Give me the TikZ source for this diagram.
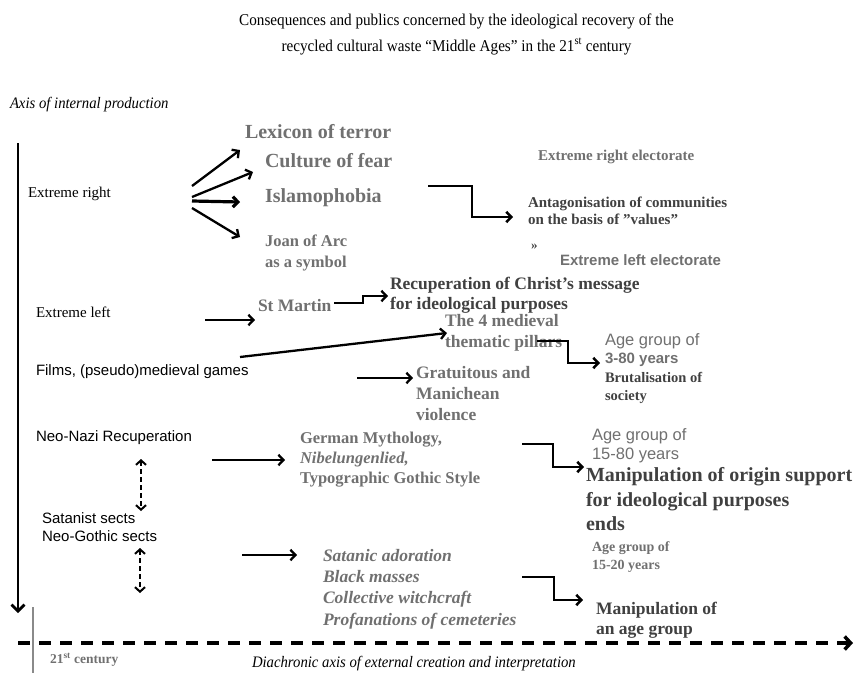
\documentclass[tikz,border=0pt]{standalone}
\usepackage{fontspec}
\setmainfont{Liberation Serif}
\newfontfamily\arial{Liberation Sans}
\newfontfamily\titlefont[FakeStretch=0.92]{Liberation Serif}
\usetikzlibrary{arrows.meta}
\definecolor{txtgrey}{HTML}{707070}
\definecolor{txtdark}{HTML}{404040}
\definecolor{rulegrey}{HTML}{8A8A8A}
\newcommand\fs[2]{\fontsize{#1}{#2}\selectfont}
\newcommand\dq{\char34\relax}

\begin{document}
\begin{tikzpicture}[x=1pt,y=-1pt,
  every node/.style={inner sep=0pt, outer sep=0pt},
  lbl/.style={anchor=west, align=left},
  grey/.style={text=txtgrey},
  dark/.style={text=txtdark},
  arr/.style={line width=2.3pt, -{Straight Barb[length=5pt,width=10.5pt]}},
  elbow/.style={arr, line width=2.5pt},
  dbl/.style={line width=2pt, dash pattern=on 5pt off 3pt,
    {Straight Barb[length=4.5pt,width=10pt]}-{Straight Barb[length=4.5pt,width=10pt]}},
]
\useasboundingbox (0,0) rectangle (857,673);

% title
\node[font=\titlefont\fs{16.5}{26}, align=center] (title) at (456.5,34)
  {Consequences and publics concerned by the ideological recovery of the\\
   recycled cultural waste “Middle Ages” in the 21\textsuperscript{st} century};

\node[lbl, font=\titlefont\fs{16}{18}\itshape] (axisv) at (10,105) {Axis of internal production};

% producers
\node[lbl, font=\fs{15}{18}] (eright) at (28,194) {Extreme right};
\node[lbl, font=\fs{15}{18}] (eleft) at (36,312) {Extreme left};
\node[lbl, font=\arial\fs{15}{18}] (films) at (36,372) {Films, (pseudo)medieval games};
\node[lbl, font=\arial\fs{15}{18}] (neonazi) at (36,438) {Neo-Nazi Recuperation};
\node[lbl, font=\arial\fs{15}{18}] (sects) at (42,527) {Satanist sects\\Neo-Gothic sects};

% extreme right themes
\node[lbl, grey, font=\bfseries\fs{20}{22}] (lexicon) at (245,132) {Lexicon of terror};
\node[lbl, grey, font=\bfseries\fs{20}{22}] (fear) at (265,161) {Culture of fear};
\node[lbl, grey, font=\bfseries\fs{20}{22}] (islam) at (265,198) {Islamophobia};
\node[lbl, grey, font=\bfseries\fs{16.5}{21}] (joan) at (265,252.5) {Joan of Arc\\as a symbol};

\node[lbl, grey, font=\bfseries\fs{15}{18}] (erelect) at (538,157) {Extreme right electorate};
\node[lbl, dark, font=\bfseries\fs{15}{17}] (antag) at (528,210.5)
  {Antagonisation of communities\\on the basis of \dq values\dq};
\node[lbl, dark, font=\bfseries\fs{13}{15}] (guil) at (531,247) {»};
\node[lbl, grey, font=\arial\bfseries\fs{15}{18}] (elelect) at (560,260) {Extreme left electorate};

% extreme left / films
\node[lbl, grey, font=\bfseries\fs{17.5}{20}] (martin) at (258,306) {St Martin};
\node[lbl, dark, font=\bfseries\fs{17.5}{20}] (christ) at (390,295)
  {Recuperation of Christ’s message\\for ideological purposes};
\node[lbl, grey, font=\bfseries\fs{17.5}{21}] (pillars) at (445,332.5) {The 4 medieval\\thematic pillars};
\node[lbl, grey, font=\arial\fs{16.5}{18}] (age1) at (605,350) {Age group of\\{\fs{15}{18}\bfseries 3-80 years}};
\node[lbl, dark, font=\bfseries\fs{14.5}{18}] (brutal) at (605,388) {Brutalisation of\\society};
\node[lbl, grey, font=\bfseries\fs{17.5}{21}] (violence) at (416,394) {Gratuitous and\\Manichean\\violence};

% neo-nazi
\node[lbl, grey, font=\bfseries\fs{16.5}{20}] (german) at (300,460)
  {German Mythology,\\\textit{Nibelungenlied,}\\Typographic Gothic Style};
\node[lbl, grey, font=\arial\fs{16.5}{19}] (age2) at (592,445.5) {Age group of\\15-80 years};
\node[lbl, dark, font=\bfseries\fs{20}{24.5}] (origin) at (586,499.5)
  {Manipulation of origin support\\for ideological purposes\\ends};

% sects
\node[lbl, grey, font=\bfseries\fs{14}{18}] (age3) at (592,557) {Age group of\\15-20 years};
\node[lbl, grey, font=\bfseries\itshape\fs{17.5}{21.3}] (satanic) at (323,589)
  {Satanic adoration\\Black masses\\Collective witchcraft\\Profanations of cemeteries};
\node[lbl, dark, font=\bfseries\fs{17.5}{20}] (agegroup) at (596,620) {Manipulation of\\an age group};

% time axis labels
\node[lbl, grey, font=\bfseries\fs{13.5}{16}] (century) at (50,660) {21\textsuperscript{st} century};
\node[lbl, font=\titlefont\itshape\fs{16}{18}] (diachron) at (252,664)
  {Diachronic axis of external creation and interpretation};

% axes
\coordinate (vtop) at (18,143); \coordinate (vbot) at (18,613);
\draw[line width=2.8pt, -{Straight Barb[length=6.5pt,width=13pt]}] (vtop) -- (vbot);
\coordinate (gtop) at (33,607); \coordinate (gbot) at (33,673);
\draw[rulegrey, line width=1.6pt] (gtop) -- (gbot);
\coordinate (hstart) at (18,643); \coordinate (hend) at (853,643);
\draw[line width=3.5pt, dash pattern=on 12pt off 9pt,
  -{Straight Barb[length=6pt,width=13pt]}] (hstart) -- (hend);

% links between sects
\coordinate (d1a) at (141,459); \coordinate (d1b) at (141,511);
\coordinate (d2a) at (140,548); \coordinate (d2b) at (140,593);
\draw[dbl] (d1a) -- (d1b);
\draw[dbl] (d2a) -- (d2b);

% extreme right fan
\coordinate (er0a) at (192,186); \coordinate (er1) at (240,150);
\coordinate (er0b) at (192,197); \coordinate (er2) at (253,172);
\coordinate (er0c) at (192,201); \coordinate (er3) at (240,202);
\coordinate (er0d) at (192,208); \coordinate (er4) at (240,237);
\draw[arr] (er0a) -- (er1);
\draw[arr] (er0b) -- (er2);
\draw[arr, line width=3.2pt] (er0c) -- (er3);
\draw[arr] (er0d) -- (er4);

\coordinate (ant1) at (428,186); \coordinate (ant2) at (472,186); \coordinate (ant3) at (513,217);
\draw[elbow] (ant1) -- (ant2) |- (ant3);

% extreme left
\coordinate (el1) at (205,320); \coordinate (el2) at (255,320);
\draw[arr] (el1) -- (el2);
\coordinate (sm1) at (334,303); \coordinate (sm2) at (363,303); \coordinate (sm3) at (388,296);
\draw[arr] (sm1) -- (sm2) |- (sm3);

% films
\coordinate (fl1) at (240,357); \coordinate (fl2) at (447,333);
\draw[arr] (fl1) -- (fl2);
\coordinate (pl1) at (537,341); \coordinate (pl2) at (568,341); \coordinate (pl3) at (600,363);
\draw[elbow] (pl1) -- (pl2) |- (pl3);
\coordinate (vl1) at (357,378); \coordinate (vl2) at (413,378);
\draw[arr] (vl1) -- (vl2);

% neo-nazi
\coordinate (nn1) at (212,460); \coordinate (nn2) at (285,460);
\draw[arr] (nn1) -- (nn2);
\coordinate (ge1) at (522,444); \coordinate (ge2) at (553,444); \coordinate (ge3) at (584,467);
\draw[elbow] (ge1) -- (ge2) |- (ge3);

% sects
\coordinate (sa1) at (242,555); \coordinate (sa2) at (297,555);
\draw[arr] (sa1) -- (sa2);
\coordinate (se1) at (522,577); \coordinate (se2) at (554,577); \coordinate (se3) at (583,600);
\draw[elbow] (se1) -- (se2) |- (se3);
\end{tikzpicture}
\end{document}
